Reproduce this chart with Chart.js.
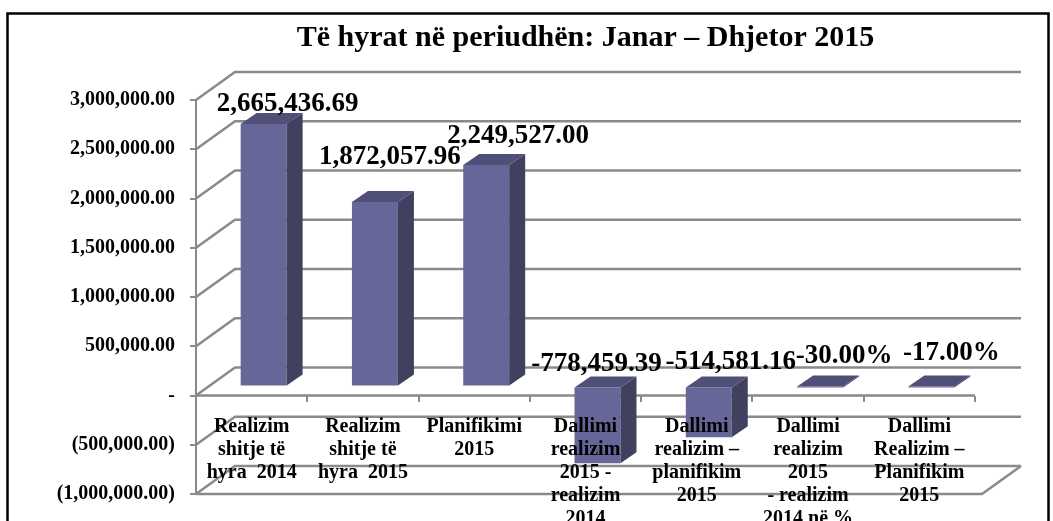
<!DOCTYPE html>
<html><head><meta charset="utf-8">
<script src="https://cdn.jsdelivr.net/npm/chart.js@4.4.1/dist/chart.umd.min.js"></script>
<style>html,body{margin:0;padding:0;background:#fff}#wrap{width:1053px;height:521px;position:relative}</style>
</head><body><div id="wrap"><canvas id="c" width="1053" height="521"></canvas></div>
<script>
// ---- data ----
const categories = [
  ["Realizim", "shitje të", "hyra  2014"],
  ["Realizim", "shitje të", "hyra  2015"],
  ["Planifikimi", "2015"],
  ["Dallimi", "realizim", "2015 -", "realizim", "2014"],
  ["Dallimi", "realizim –", "planifikim", "2015"],
  ["Dallimi", "realizim", "2015", "- realizim", "2014 në %"],
  ["Dallimi", "Realizim –", "Planifikim", "2015"]
];
const values = [2665436.69, 1872057.96, 2249527.00, -778459.39, -514581.16, -0.30, -0.17];
const valueUnits = ["", "", "", "", "", "%", "%"];
const yMin = -1000000, yMax = 3000000, yStep = 500000;
const titleText = "Të hyrat në periudhën: Janar – Dhjetor 2015";

// ---- style ----
const SERIF = "'Liberation Serif', 'Times New Roman', serif";
const GRID = '#8a8a8a';
const FRONT = '#666699', SIDE = '#40405f', TOP = '#4f4f78';
const DEPTH = {x: 39, y: -28};        // wall depth
const BAR_SHIFT = {x: 12, y: -9};     // bars sit inside the depth
const BAR_DEPTH = {x: 16, y: -11};    // bar 3D depth
const labelNudges = [[24,-20],[15,-45],[32,-29],[-1,-23],[22,-25],[24,-31],[20,-34]];

function fmtNum(v){
  const neg = v < 0; v = Math.abs(v);
  let [i, d] = v.toFixed(2).split('.');
  i = i.replace(/\B(?=(\d{3})+(?!\d))/g, ',');
  return (neg ? '-' : '') + i + '.' + d;
}
function fmtValue(v, u){ return u === '%' ? (v*100).toFixed(2) + '%' : fmtNum(v); }
function fmtTick(v){ if (v === 0) return '-'; return v < 0 ? '(' + fmtNum(-v) + ')' : fmtNum(v); }

const threeD = {
  id: 'threeD',
  beforeDraw(chart){
    const ctx = chart.ctx;
    ctx.save();
    ctx.fillStyle = '#fff'; ctx.fillRect(0,0,chart.width,chart.height);
    ctx.strokeStyle = '#000'; ctx.lineWidth = 2.5;
    ctx.strokeRect(7.5, 13.5, 1041, 530);
    ctx.restore();
  },
  beforeDatasetsDraw(chart){
    const {ctx, chartArea: a, scales: {y}} = chart;
    ctx.save();
    ctx.strokeStyle = GRID; ctx.lineWidth = 2.5;
    y.ticks.forEach(t => {
      const py = y.getPixelForValue(t.value);
      ctx.beginPath();
      ctx.moveTo(a.left, py);
      ctx.lineTo(a.left + DEPTH.x, py + DEPTH.y);
      ctx.lineTo(a.right + 7 + DEPTH.x, py + DEPTH.y);
      ctx.stroke();
    });
    // floor front edge
    ctx.beginPath();
    ctx.moveTo(a.left, a.bottom);
    ctx.lineTo(a.right + 7, a.bottom);
    ctx.lineTo(a.right + 7 + DEPTH.x, a.bottom + DEPTH.y);
    ctx.stroke();
    // category axis line at zero
    const z = y.getPixelForValue(0);
    ctx.beginPath(); ctx.moveTo(a.left, z); ctx.lineTo(a.right, z); ctx.stroke();
    ctx.restore();
    ctx.save();
    ctx.translate(BAR_SHIFT.x, BAR_SHIFT.y);
  },
  afterDatasetsDraw(chart){
    const ctx = chart.ctx;
    const meta = chart.getDatasetMeta(0);
    meta.data.forEach((el) => {
      const w = el.width, l = el.x - w/2, r = el.x + w/2;
      const top = Math.min(el.y, el.base), bot = Math.max(el.y, el.base);
      ctx.fillStyle = SIDE;
      ctx.beginPath();
      ctx.moveTo(r, top); ctx.lineTo(r + BAR_DEPTH.x, top + BAR_DEPTH.y);
      ctx.lineTo(r + BAR_DEPTH.x, bot + BAR_DEPTH.y); ctx.lineTo(r, bot);
      ctx.closePath(); ctx.fill();
      ctx.fillStyle = TOP;
      ctx.beginPath();
      ctx.moveTo(l, top); ctx.lineTo(r, top);
      ctx.lineTo(r + BAR_DEPTH.x, top + BAR_DEPTH.y); ctx.lineTo(l + BAR_DEPTH.x, top + BAR_DEPTH.y);
      ctx.closePath(); ctx.fill();
    });
    ctx.restore();
    // data labels
    ctx.save();
    ctx.fillStyle = '#000';
    ctx.font = 'bold 27px ' + SERIF;
    ctx.textAlign = 'center'; ctx.textBaseline = 'middle';
    meta.data.forEach((el, i) => {
      const v = values[i];
      const ref = v >= 0 ? el.y : el.base;
      const n = labelNudges[i];
      ctx.fillText(fmtValue(v, valueUnits[i]), el.x + BAR_SHIFT.x + n[0], ref + BAR_SHIFT.y + n[1]);
    });
    ctx.restore();
  }
};

new Chart(document.getElementById('c'), {
  type: 'bar',
  data: {
    labels: categories,
    datasets: [{data: values, backgroundColor: FRONT, borderWidth: 0, barPercentage: 0.413, categoryPercentage: 1, clip: false}]
  },
  options: {
    responsive: false, animation: false, devicePixelRatio: 1,
    layout: {padding: {left: 0, right: 78, top: 0, bottom: 21}},
    plugins: {
      legend: {display: false}, tooltip: {enabled: false},
      title: {display: true, text: titleText, fullSize: false, color: '#000',
        font: {family: SERIF, size: 30, weight: 'bold', lineHeight: 1.2},
        padding: {top: 20, bottom: 44}}
    },
    scales: {
      x: {
        type: 'category', position: {y: 0}, offset: true,
        grid: {offset: true, drawOnChartArea: false, drawTicks: true, tickLength: 6, color: GRID, lineWidth: 2},
        border: {display: false},
        ticks: {z: 1, color: '#000', font: {family: SERIF, size: 20, weight: 'bold', lineHeight: 1.15},
          padding: 14, maxRotation: 0, autoSkip: false}
      },
      y: {
        min: yMin, max: yMax,
        ticks: {stepSize: yStep, callback: fmtTick, color: '#000',
          font: {family: SERIF, size: 20, weight: 'bold'}, padding: 15},
        grid: {drawOnChartArea: false, drawTicks: true, tickLength: 6, color: GRID, lineWidth: 2},
        border: {display: true, color: GRID, width: 2},
        afterFit(s){ s.width = 196; }
      }
    }
  },
  plugins: [threeD]
});
</script></body></html>
